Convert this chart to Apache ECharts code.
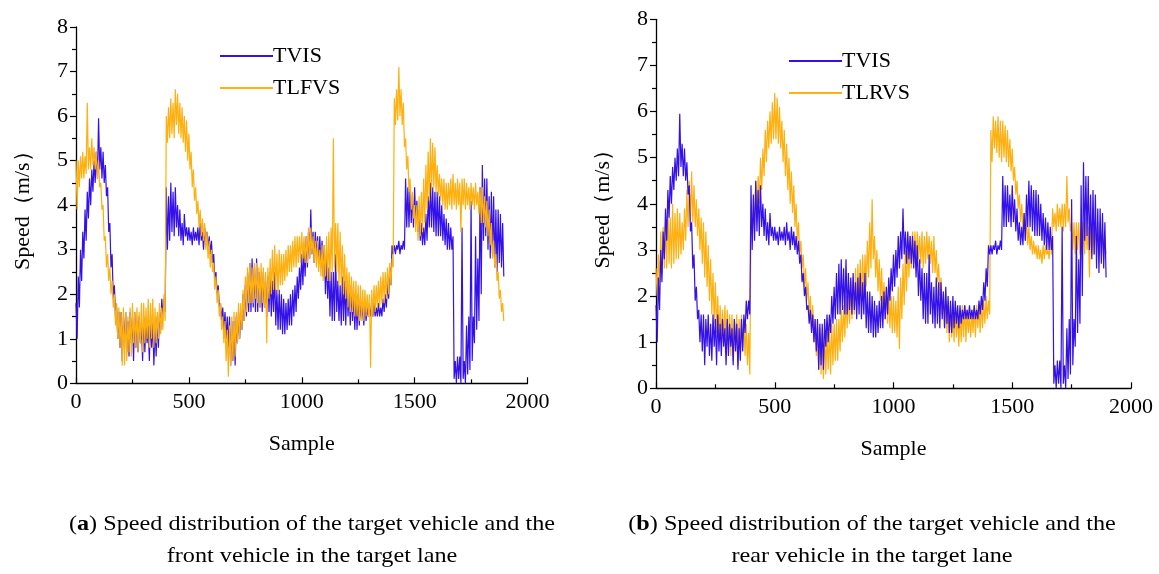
<!DOCTYPE html>
<html>
<head>
<meta charset="utf-8">
<script src="https://cdn.jsdelivr.net/npm/echarts@6/dist/echarts.min.js"></script>
<style>
  html, body { margin: 0; padding: 0; background: #ffffff; }
  #chart { width: 1159px; height: 574px; }
</style>
</head>
<body>
<div id="chart"></div>
<script>
// Speeds in m/s, summarised per 10-sample window: the upper and lower
// excursion of the signal inside each window (windows start at 0, 10, 20, ...).
const windowSize = 10;
const xTicks = [0, 500, 1000, 1500, 2000];
const yTicks = [0, 1, 2, 3, 4, 5, 6, 7, 8];

// Target vehicle (TVIS)
const tvisHigh = [
  1.8, 2.4, 3.0, 3.4, 3.9, 4.3, 4.6, 4.8, 5.0, 5.2,
  5.95, 5.3, 5.2, 4.9, 4.4, 3.6, 2.9, 2.2, 1.7, 1.6,
  1.6, 1.5, 1.6, 1.4, 1.6, 1.5, 1.6, 1.4, 1.5, 1.3,
  1.5, 1.4, 1.3, 1.5, 1.4, 1.3, 1.5, 1.6, 1.9, 1.9,
  4.4, 4.2, 4.5, 4.3, 4.4, 4.0, 3.9, 3.6, 3.8, 3.5,
  3.5, 3.4, 3.5, 3.4, 3.5, 3.6, 3.4, 3.5, 3.4, 3.3,
  3.2, 2.9, 2.5, 2.2, 1.8, 1.7, 1.6, 1.5, 1.5, 1.4,
  1.4, 1.5, 1.6, 1.6, 2.0, 2.2, 2.5, 2.7, 2.8, 2.6,
  2.8, 2.5, 2.4, 2.5, 2.3, 2.4, 2.5, 2.3, 2.5, 2.1,
  2.1, 2.0, 1.9, 1.8, 1.9, 2.0, 2.1, 2.2, 2.4, 2.6,
  2.9, 3.0, 3.3, 3.4, 3.9, 3.4, 3.4, 3.3, 3.3, 3.2,
  3.1, 2.8, 2.6, 2.5, 2.5, 2.9, 2.3, 2.2, 2.4, 2.3,
  2.3, 2.1, 2.2, 2.0, 1.9, 2.0, 1.9, 1.8, 1.8, 1.7,
  1.8, 1.7, 1.8, 1.7, 1.8, 1.7, 1.9, 2.0, 2.3, 2.6,
  3.1, 3.1, 3.1, 3.2, 3.1, 3.2, 4.6, 4.4, 4.4, 4.2,
  4.4, 4.1, 3.9, 3.6, 3.5, 3.8, 4.2, 4.5, 4.4, 4.3,
  4.3, 4.2, 4.0, 3.8, 3.7, 3.6, 3.5, 3.3, 0.5, 0.6,
  0.6, 3.5, 0.5, 1.3, 1.5, 4.1, 1.5, 3.3, 2.8, 4.4,
  4.9, 4.6, 4.6, 4.2, 4.3, 4.2, 3.9, 3.9, 3.8, 3.6
];
const tvisLow = [
  1.0, 1.7, 2.3, 2.8, 3.2, 3.7, 4.0, 4.3, 4.5, 4.6,
  4.8, 4.6, 4.5, 4.2, 3.4, 2.6, 1.9, 1.5, 1.0, 0.8,
  0.5, 0.9, 0.7, 0.6, 0.9, 0.5, 0.8, 0.7, 0.9, 0.5,
  0.7, 0.9, 0.5, 0.8, 0.4, 0.6, 0.8, 1.2, 1.5, 1.6,
  3.0, 3.2, 3.4, 3.3, 3.5, 3.3, 3.2, 3.1, 3.3, 3.2,
  3.2, 3.1, 3.2, 3.2, 3.1, 3.2, 3.0, 3.1, 3.0, 2.9,
  2.7, 2.3, 2.0, 1.7, 1.4, 1.2, 1.0, 0.8, 0.4, 0.5,
  0.4, 0.9, 1.0, 1.2, 1.4, 1.5, 1.6, 1.6, 1.7, 1.6,
  1.6, 1.7, 1.6, 1.7, 1.5, 1.6, 1.5, 1.6, 1.3, 1.2,
  1.2, 1.1, 1.1, 1.2, 1.3, 1.3, 1.5, 1.6, 1.9, 2.1,
  2.2, 2.4, 2.6, 2.8, 2.9, 2.7, 2.8, 2.7, 2.6, 2.4,
  2.0, 1.9, 1.5, 1.4, 1.4, 1.6, 1.4, 1.3, 1.4, 1.3,
  1.5, 1.3, 1.4, 1.2, 1.2, 1.3, 1.4, 1.3, 1.4, 1.5,
  1.5, 1.5, 1.5, 1.5, 1.5, 1.5, 1.6, 1.7, 1.9, 2.2,
  2.9, 2.9, 3.0, 2.9, 3.0, 3.0, 3.5, 3.5, 3.6, 3.5,
  3.6, 3.4, 3.2, 3.1, 3.1, 3.2, 3.5, 3.5, 3.4, 3.3,
  3.3, 3.3, 3.2, 3.1, 3.0, 3.0, 3.0, 0.1, 0.0, 0.1,
  0.0, 0.1, 0.0, 0.2, 0.3, 0.5, 0.9, 1.2, 1.4, 2.0,
  3.2, 3.3, 3.0, 2.8, 2.9, 2.6, 2.5, 2.7, 2.6, 2.4
];

// Front vehicle in the target lane (TLFVS)
const tlfvsHigh = [
  5.0, 5.0, 5.1, 5.2, 5.1, 6.3, 5.3, 5.5, 5.3, 5.2,
  5.0, 4.5, 4.0, 3.3, 2.9, 2.6, 2.3, 2.0, 1.8, 1.7,
  1.6, 1.7, 1.6, 1.5, 1.7, 1.8, 1.6, 1.7, 1.6, 1.8,
  1.8, 1.7, 1.9, 1.8, 1.9, 1.7, 1.6, 1.8, 1.7, 2.0,
  6.0, 6.2, 6.4, 6.3, 6.6, 6.5, 6.3, 6.2, 6.0, 5.9,
  5.6, 5.2, 4.8, 4.4, 4.1, 3.9, 3.7, 3.6, 3.4, 3.2,
  3.0, 2.7, 2.4, 2.1, 1.8, 1.5, 1.4, 1.2, 1.3, 1.5,
  1.6, 1.6, 1.8, 1.8, 2.1, 2.4, 2.6, 2.7, 2.6, 2.7,
  2.7, 2.6, 2.7, 2.6, 2.5, 2.6, 2.8, 3.0, 3.1, 2.9,
  3.0, 2.9, 2.9, 3.0, 3.1, 3.1, 3.2, 3.3, 3.3, 3.3,
  3.4, 3.3, 3.3, 3.5, 3.5, 3.3, 3.2, 3.2, 3.0, 3.1,
  3.1, 3.3, 3.4, 3.5, 5.5, 3.6, 3.6, 3.4, 3.1, 2.9,
  2.6, 2.5, 2.4, 2.3, 2.3, 2.2, 2.2, 2.1, 2.1, 2.0,
  2.0, 2.1, 2.2, 2.2, 2.3, 2.4, 2.5, 2.5, 2.6, 2.7,
  2.8, 6.4, 6.6, 7.1, 6.6, 6.3, 5.5, 5.1, 4.6, 4.3,
  4.0, 4.0, 4.2, 4.3, 4.6, 4.9, 5.2, 5.5, 5.4, 5.3,
  4.9, 4.7, 4.6, 4.6, 4.5, 4.5, 4.6, 4.7, 4.5, 4.6,
  4.5, 4.6, 4.6, 4.5, 4.4, 4.5, 4.4, 4.5, 4.3, 4.4,
  4.4, 4.2, 4.1, 3.9, 3.6, 3.2, 2.9, 2.5, 2.1, 1.8
];
const tlfvsLow = [
  3.9, 4.4, 4.6, 4.6, 4.7, 4.8, 4.8, 4.9, 4.8, 4.6,
  4.4, 3.9, 3.2, 2.6, 2.3, 2.0, 1.7, 1.3, 1.0, 0.8,
  0.4, 0.4, 0.5, 0.7, 0.6, 0.9, 0.8, 0.7, 0.9, 0.7,
  0.9, 1.0, 0.8, 1.0, 0.8, 0.9, 1.0, 1.1, 1.2, 1.4,
  5.4, 5.5, 5.6, 5.5, 5.8, 5.6, 5.5, 5.4, 5.2, 5.0,
  4.8, 4.4, 4.1, 3.8, 3.5, 3.3, 3.2, 3.0, 2.8, 2.6,
  2.5, 2.1, 1.8, 1.5, 1.2, 0.9, 0.5, 0.15, 0.4, 0.5,
  0.6, 0.9, 1.0, 1.2, 1.4, 1.6, 1.8, 1.8, 1.8, 1.9,
  1.8, 1.7, 1.8, 1.7, 0.9, 1.9, 2.0, 2.1, 2.1, 2.0,
  2.2, 2.2, 2.3, 2.4, 2.5, 2.5, 2.6, 2.6, 2.7, 2.7,
  2.8, 2.7, 2.7, 2.8, 2.9, 2.7, 2.6, 2.5, 2.4, 2.3,
  2.4, 2.3, 2.3, 2.5, 2.6, 2.5, 2.2, 2.2, 2.0, 1.9,
  1.7, 1.6, 1.6, 1.5, 1.5, 1.4, 1.4, 1.4, 1.5, 1.5,
  0.35, 1.5, 1.6, 1.7, 1.7, 1.8, 1.8, 1.9, 2.0, 2.2,
  2.6, 5.8, 5.9, 6.0, 5.8, 5.3, 4.8, 4.3, 3.9, 3.7,
  3.4, 3.2, 3.3, 3.4, 3.6, 3.9, 4.1, 4.3, 4.4, 4.3,
  4.2, 4.1, 4.0, 3.9, 3.9, 4.0, 3.9, 4.0, 3.9, 4.0,
  3.4, 4.0, 3.9, 4.0, 3.9, 4.0, 3.9, 4.0, 3.8, 3.6,
  3.6, 3.5, 3.3, 3.1, 2.8, 2.6, 2.3, 1.9, 1.6, 1.4
];

// Rear vehicle in the target lane (TLRVS)
const tlrvsHigh = [
  2.6, 2.9, 3.4, 3.5, 3.6, 4.0, 3.7, 4.0, 3.8, 3.9,
  3.8, 3.6, 3.9, 4.3, 4.5, 4.7, 4.4, 4.1, 3.9, 3.7,
  3.6, 3.4, 3.1, 2.8, 2.5, 2.3, 2.0, 1.8, 1.7, 1.8,
  1.7, 1.6, 1.6, 1.5, 1.6, 1.5, 1.6, 1.5, 1.4, 1.2,
  3.6, 4.1, 4.5, 4.6, 5.0, 5.2, 5.6, 5.8, 6.0, 6.2,
  6.4, 6.3, 6.1, 5.8, 5.6, 5.3, 5.0, 4.7, 4.4, 4.0,
  3.6, 3.2, 2.9, 2.6, 2.3, 2.0, 1.8, 1.5, 1.4, 1.3,
  1.2, 1.3, 1.2, 1.3, 1.4, 1.4, 1.5, 1.5, 1.7, 1.8,
  2.0, 2.1, 2.3, 2.4, 2.6, 2.7, 2.8, 2.9, 2.9, 3.2,
  3.6, 4.1, 3.3, 3.0, 2.8, 2.6, 2.3, 2.2, 2.1, 2.0,
  2.0, 1.9, 2.2, 2.4, 2.7, 3.0, 3.2, 3.3, 3.4, 3.4,
  3.4, 3.3, 3.4, 3.3, 3.4, 3.3, 3.2, 3.3, 3.0, 2.7,
  2.4, 2.1, 1.9, 1.8, 1.8, 1.7, 1.7, 1.6, 1.7, 1.8,
  1.8, 1.7, 1.6, 1.7, 1.8, 1.8, 1.8, 1.9, 1.9, 2.0,
  1.9, 5.6, 5.9, 5.8, 5.9, 5.8, 5.8, 5.7, 5.6, 5.4,
  5.2, 4.8, 4.5, 4.2, 4.0, 3.8, 3.7, 3.5, 3.3, 3.2,
  3.1, 3.1, 3.0, 3.1, 3.1, 3.0, 3.3, 3.9, 3.8, 4.0,
  3.9, 4.0, 4.0, 4.6, 3.9, 3.6, 3.6, 3.6, 3.6, 3.5,
  3.6, 3.7, 3.5, 3.6, 3.5, 3.6, 3.6, 3.6, 3.4, 3.3
];
const tlrvsLow = [
  2.0, 2.3, 2.5, 2.6, 2.6, 2.7, 2.6, 2.7, 2.8, 2.8,
  2.9, 3.0, 3.2, 3.5, 3.6, 3.6, 3.5, 3.3, 3.0, 2.7,
  2.4, 2.2, 1.9, 1.6, 1.4, 1.2, 1.1, 1.0, 1.0, 0.9,
  0.9, 0.7, 0.6, 0.9, 0.5, 0.8, 0.9, 0.7, 0.5, 0.3,
  3.3, 3.4, 3.6, 4.0, 4.3, 4.6, 4.9, 5.2, 5.3, 5.4,
  5.4, 5.3, 5.2, 4.9, 4.6, 4.3, 4.0, 3.8, 3.5, 3.2,
  2.9, 2.6, 2.2, 1.9, 1.6, 1.3, 1.0, 0.7, 0.4, 0.3,
  0.2, 0.3, 0.4, 0.3, 0.5, 0.6, 0.6, 0.8, 1.0, 1.1,
  1.3, 1.4, 1.5, 1.6, 1.7, 1.8, 1.9, 2.0, 2.2, 2.4,
  2.6, 2.8, 2.4, 2.1, 1.9, 1.7, 1.5, 1.4, 1.3, 1.2,
  1.2, 1.1, 0.85, 1.5, 1.8, 2.1, 2.4, 2.6, 2.7, 2.7,
  2.8, 2.7, 2.6, 2.7, 2.8, 2.7, 2.5, 2.5, 2.3, 2.0,
  1.6, 1.3, 1.2, 1.0, 1.1, 1.0, 1.1, 0.9, 1.0, 1.1,
  1.0, 1.2, 1.1, 1.2, 1.1, 1.3, 1.2, 1.3, 1.4, 1.5,
  1.6, 4.9, 5.2, 5.1, 5.0, 4.9, 5.0, 4.9, 4.8, 4.7,
  4.5, 4.2, 3.9, 3.6, 3.4, 3.2, 3.1, 3.0, 2.9, 2.9,
  2.8, 2.8, 2.7, 2.8, 2.9, 2.8, 2.9, 3.5, 3.4, 3.5,
  3.5, 3.4, 3.5, 3.6, 3.4, 3.0, 2.9, 3.0, 2.9, 2.9,
  2.9, 3.0, 2.4, 2.9, 2.9, 3.0, 2.8, 2.9, 2.8, 2.9
];

const BLUE = '#3311e8';
const ORANGE = '#fdb00f';
const SERIF = "'Liberation Serif', 'Times New Roman', serif";
const AXIS_FONT = 22;

// Trace each window's upper value at its start and its lower value half a window later
function traceWindows(high, low) {
  const pts = [];
  for (let i = 0; i < high.length; i++) {
    pts.push([i * windowSize, high[i]]);
    pts.push([i * windowSize + windowSize / 2, low[i]]);
  }
  return pts;
}

function makeXAxis(gridIndex) {
  return {
    type: 'value', gridIndex: gridIndex,
    min: xTicks[0], max: xTicks[xTicks.length - 1], interval: xTicks[1] - xTicks[0],
    name: 'Sample', nameLocation: 'middle', nameGap: 50,
    nameTextStyle: { color: '#000', fontFamily: SERIF, fontSize: AXIS_FONT },
    axisLine: { onZero: false, lineStyle: { color: '#000', width: 1.3 } },
    axisTick: { inside: true, length: 6, lineStyle: { color: '#000', width: 1.2 } },
    minorTick: { show: true, splitNumber: 2, length: 4, lineStyle: { color: '#000', width: 1.2 } },
    axisLabel: { color: '#000', fontFamily: SERIF, fontSize: AXIS_FONT, margin: 8,
                 formatter: function (v) { return String(v); } },
    splitLine: { show: false }
  };
}

function makeYAxis(gridIndex) {
  return {
    type: 'value', gridIndex: gridIndex,
    min: yTicks[0], max: yTicks[yTicks.length - 1], interval: yTicks[1] - yTicks[0],
    name: 'Speed（m/s）', nameLocation: 'middle', nameGap: 42,
    nameTextStyle: { color: '#000', fontFamily: SERIF, fontSize: AXIS_FONT },
    axisLine: { show: true, onZero: false, lineStyle: { color: '#000', width: 1.3 } },
    axisTick: { show: true, inside: false, length: 6, lineStyle: { color: '#000', width: 1.2 } },
    minorTick: { show: true, splitNumber: 2, length: 4, lineStyle: { color: '#000', width: 1.2 } },
    axisLabel: { color: '#000', fontFamily: SERIF, fontSize: AXIS_FONT, margin: 8,
                 formatter: function (v) { return String(v); } },
    splitLine: { show: false }
  };
}

function makeLine(name, high, low, color, axisIndex, z) {
  return {
    name: name, type: 'line',
    xAxisIndex: axisIndex, yAxisIndex: axisIndex,
    data: traceWindows(high, low),
    symbol: 'none', animation: false, z: z,
    lineStyle: { color: color, width: 1.2 },
    itemStyle: { color: color }
  };
}

function makeLegend(names, left, top) {
  return {
    data: names, orient: 'vertical', left: left, top: top,
    icon: 'rect', itemWidth: 53, itemHeight: 2, itemGap: 10,
    selectedMode: false,
    textStyle: { color: '#000', fontFamily: SERIF, fontSize: AXIS_FONT, padding: [0, 0, 0, -5] }
  };
}

const CAPTION_FONT = "'Liberation Serif', serif";
function caption(text, x, y) {
  return {
    type: 'text', x: x, y: y, scaleX: 1.1,
    style: {
      text: text, fontFamily: CAPTION_FONT, fontSize: 22, fill: '#000',
      align: 'center', verticalAlign: 'middle',
      rich: { b: { fontFamily: CAPTION_FONT, fontSize: 22, fontWeight: 'bold' } }
    }
  };
}

const chart = echarts.init(document.getElementById('chart'), null, { renderer: 'canvas' });
chart.setOption({
  backgroundColor: '#ffffff',
  animation: false,
  grid: [
    { left: 76, top: 27, width: 451.5, height: 356.3 },
    { left: 656, top: 19.3, width: 475, height: 369 }
  ],
  xAxis: [makeXAxis(0), makeXAxis(1)],
  yAxis: [makeYAxis(0), makeYAxis(1)],
  legend: [
    makeLegend(['TVIS', 'TLFVS'], 215, 40),
    makeLegend(['TVIS', 'TLRVS'], 784, 45)
  ],
  series: [
    makeLine('TVIS', tvisHigh, tvisLow, BLUE, 0, 2),
    makeLine('TLFVS', tlfvsHigh, tlfvsLow, ORANGE, 0, 3),
    makeLine('TLRVS', tlrvsHigh, tlrvsLow, ORANGE, 1, 2),
    makeLine('TVIS', tvisHigh, tvisLow, BLUE, 1, 3)
  ],
  graphic: [
    caption('({b|a}) Speed distribution of the target vehicle and the', 312, 524),
    caption('front vehicle in the target lane', 312, 556),
    caption('({b|b}) Speed distribution of the target vehicle and the', 872, 524),
    caption('rear vehicle in the target lane', 872, 556)
  ]
});
</script>
</body>
</html>
